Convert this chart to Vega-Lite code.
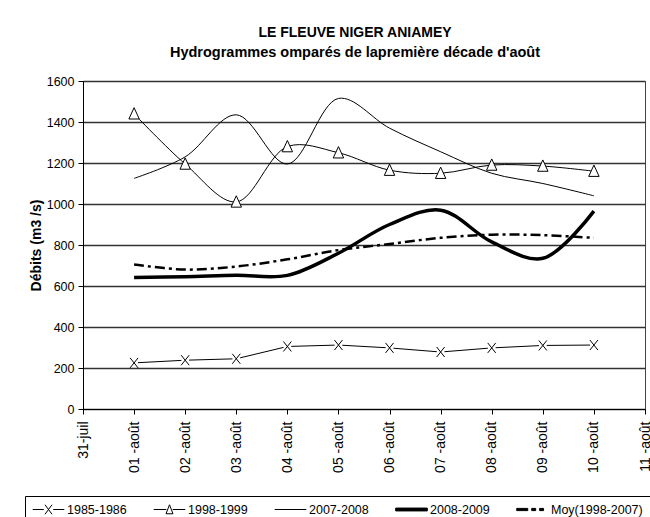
{
  "$schema": "https://vega.github.io/schema/vega-lite/v6.json",
  "width": 562,
  "height": 328,
  "autosize": {"type": "none"},
  "padding": {"left": 83, "top": 81, "right": 5, "bottom": 108},
  "background": "white",
  "title": {
    "text": "LE FLEUVE NIGER ANIAMEY",
    "subtitle": "Hydrogrammes omparés de lapremière décade d'août",
    "font": "Liberation Sans",
    "fontSize": 14,
    "fontWeight": "bold",
    "color": "black",
    "subtitleFont": "Liberation Sans",
    "subtitleFontSize": 14.5,
    "subtitleFontWeight": "bold",
    "subtitleColor": "black",
    "subtitlePadding": 6,
    "anchor": "middle",
    "dx": -9,
    "offset": 16
  },
  "config": {
    "font": "Liberation Sans",
    "view": {"stroke": "#444", "strokeWidth": 1}
  },
  "data": {
    "values": [
      {"date": "01 -août", "serie": "1985-1986", "value": 225},
      {"date": "02 -août", "serie": "1985-1986", "value": 238},
      {"date": "03 -août", "serie": "1985-1986", "value": 245},
      {"date": "04 -août", "serie": "1985-1986", "value": 305},
      {"date": "05 -août", "serie": "1985-1986", "value": 312},
      {"date": "06 -août", "serie": "1985-1986", "value": 298},
      {"date": "07 -août", "serie": "1985-1986", "value": 278},
      {"date": "08 -août", "serie": "1985-1986", "value": 298},
      {"date": "09 -août", "serie": "1985-1986", "value": 310},
      {"date": "10 -août", "serie": "1985-1986", "value": 312},
      {"date": "01 -août", "serie": "1998-1999", "value": 1440},
      {"date": "02 -août", "serie": "1998-1999", "value": 1195},
      {"date": "03 -août", "serie": "1998-1999", "value": 1010},
      {"date": "04 -août", "serie": "1998-1999", "value": 1280},
      {"date": "05 -août", "serie": "1998-1999", "value": 1250},
      {"date": "06 -août", "serie": "1998-1999", "value": 1165},
      {"date": "07 -août", "serie": "1998-1999", "value": 1150},
      {"date": "08 -août", "serie": "1998-1999", "value": 1190},
      {"date": "09 -août", "serie": "1998-1999", "value": 1185},
      {"date": "10 -août", "serie": "1998-1999", "value": 1160},
      {"date": "01 -août", "serie": "2007-2008", "value": 1125},
      {"date": "02 -août", "serie": "2007-2008", "value": 1230},
      {"date": "03 -août", "serie": "2007-2008", "value": 1435},
      {"date": "04 -août", "serie": "2007-2008", "value": 1195},
      {"date": "05 -août", "serie": "2007-2008", "value": 1515},
      {"date": "06 -août", "serie": "2007-2008", "value": 1370},
      {"date": "07 -août", "serie": "2007-2008", "value": 1255},
      {"date": "08 -août", "serie": "2007-2008", "value": 1150},
      {"date": "09 -août", "serie": "2007-2008", "value": 1100},
      {"date": "10 -août", "serie": "2007-2008", "value": 1040},
      {"date": "01 -août", "serie": "2008-2009", "value": 642},
      {"date": "02 -août", "serie": "2008-2009", "value": 645},
      {"date": "03 -août", "serie": "2008-2009", "value": 652},
      {"date": "04 -août", "serie": "2008-2009", "value": 652},
      {"date": "05 -août", "serie": "2008-2009", "value": 760},
      {"date": "06 -août", "serie": "2008-2009", "value": 900},
      {"date": "07 -août", "serie": "2008-2009", "value": 970},
      {"date": "08 -août", "serie": "2008-2009", "value": 815},
      {"date": "09 -août", "serie": "2008-2009", "value": 735},
      {"date": "10 -août", "serie": "2008-2009", "value": 965},
      {"date": "01 -août", "serie": "Moy(1998-2007)", "value": 705},
      {"date": "02 -août", "serie": "Moy(1998-2007)", "value": 680},
      {"date": "03 -août", "serie": "Moy(1998-2007)", "value": 695},
      {"date": "04 -août", "serie": "Moy(1998-2007)", "value": 730},
      {"date": "05 -août", "serie": "Moy(1998-2007)", "value": 775},
      {"date": "06 -août", "serie": "Moy(1998-2007)", "value": 805},
      {"date": "07 -août", "serie": "Moy(1998-2007)", "value": 835},
      {"date": "08 -août", "serie": "Moy(1998-2007)", "value": 850},
      {"date": "09 -août", "serie": "Moy(1998-2007)", "value": 848},
      {"date": "10 -août", "serie": "Moy(1998-2007)", "value": 835}
    ]
  },
  "encoding": {
    "x": {
      "field": "date",
      "type": "ordinal",
      "scale": {
        "type": "point",
        "padding": 0,
        "domain": ["31-juil", "01 -août", "02 -août", "03 -août", "04 -août", "05 -août", "06 -août", "07 -août", "08 -août", "09 -août", "10 -août", "11 -août"]
      },
      "axis": {
        "title": null,
        "labelAngle": -90,
        "labelFontSize": 14,
        "labelFont": "Liberation Sans",
        "labelColor": "black",
        "labelPadding": 7,
        "tickSize": 5,
        "tickColor": "black",
        "domainColor": "black",
        "grid": false
      }
    },
    "y": {
      "field": "value",
      "type": "quantitative",
      "scale": {"domain": [0, 1600], "nice": false},
      "axis": {
        "values": [0, 200, 400, 600, 800, 1000, 1200, 1400, 1600],
        "format": "d",
        "title": "Débits (m3 /s)",
        "titleFont": "Liberation Sans",
        "titleFontSize": 14,
        "titleFontWeight": "bold",
        "titleColor": "black",
        "titlePadding": 3,
        "labelFontSize": 12.5,
        "labelFont": "Liberation Sans",
        "labelColor": "black",
        "labelPadding": 4,
        "tickSize": 5,
        "tickColor": "black",
        "domainColor": "black",
        "gridColor": "#333",
        "gridWidth": 1.5
      }
    }
  },
  "layer": [
    {
      "mark": {"type": "point", "opacity": 0, "filled": false, "strokeWidth": 1},
      "encoding": {
        "shape": {
          "field": "serie",
          "type": "nominal",
          "scale": {
            "domain": ["1985-1986", "1998-1999", "2007-2008", "2008-2009", "Moy(1998-2007)"],
            "range": [
              "M-1,0L-0.3,0M0.3,0L1,0M-0.22,-0.3L0.22,0.3M-0.22,0.3L0.22,-0.3",
              "M-1,0L-0.2,0M0.2,0L1,0M0,-0.3L0.22,0.27L-0.22,0.27Z",
              "M-1,0L1,0",
              "M-1,-0.09L1,-0.09L1,0.09L-1,0.09Z",
              "M-1,-0.07L-0.3,-0.07L-0.3,0.07L-1,0.07ZM-0.05,-0.07L0.2,-0.07L0.2,0.07L-0.05,0.07ZM0.45,-0.07L0.7,-0.07L0.7,0.07L0.45,0.07Z"
            ]
          },
          "legend": {
            "title": null,
            "orient": "none",
            "legendX": -58,
            "legendY": 415,
            "direction": "horizontal",
            "strokeColor": "black",
            "fillColor": "white",
            "padding": 7,
            "symbolSize": 1000,
            "symbolOpacity": 1,
            "symbolStrokeWidth": 1,
            "clipHeight": 13,
            "labelFont": "Liberation Sans",
            "labelFontSize": 12.5,
            "labelColor": "black",
            "labelOffset": 2,
            "columnPadding": 26
          }
        },
        "fill": {
          "field": "serie",
          "type": "nominal",
          "scale": {
            "domain": ["1985-1986", "1998-1999", "2007-2008", "2008-2009", "Moy(1998-2007)"],
            "range": ["white", "white", "white", "black", "black"]
          }
        },
        "stroke": {
          "field": "serie",
          "type": "nominal",
          "scale": {
            "domain": ["1985-1986", "1998-1999", "2007-2008", "2008-2009", "Moy(1998-2007)"],
            "range": ["black", "black", "black", "black", "black"]
          }
        }
      }
    },
    {
      "transform": [{"filter": "datum.serie === '1985-1986'"}],
      "mark": {"type": "line", "color": "black", "strokeWidth": 1}
    },
    {
      "transform": [{"filter": "datum.serie === '1998-1999' || datum.serie === '2007-2008'"}],
      "mark": {"type": "line", "color": "black", "strokeWidth": 1, "interpolate": "catmull-rom"},
      "encoding": {
        "detail": {"field": "serie"}
      }
    },
    {
      "transform": [{"filter": "datum.serie === '2008-2009'"}],
      "mark": {"type": "line", "color": "black", "strokeWidth": 3.5, "interpolate": "catmull-rom"}
    },
    {
      "transform": [{"filter": "datum.serie === 'Moy(1998-2007)'"}],
      "mark": {"type": "line", "color": "black", "strokeWidth": 2.5, "strokeDash": [10, 4, 3, 4], "interpolate": "catmull-rom"}
    },
    {
      "transform": [{"filter": "datum.serie === '1985-1986'"}],
      "mark": {"type": "point", "shape": "square", "filled": true, "color": "white", "size": 60, "opacity": 1}
    },
    {
      "transform": [{"filter": "datum.serie === '1985-1986'"}],
      "mark": {"type": "point", "shape": "M-0.8,-1L0.8,1M-0.8,1L0.8,-1", "filled": false, "color": "black", "strokeWidth": 1, "size": 100, "opacity": 1}
    },
    {
      "transform": [{"filter": "datum.serie === '1998-1999'"}],
      "mark": {"type": "point", "shape": "M0,-1L0.85,0.85L-0.85,0.85Z", "filled": true, "fill": "white", "stroke": "black", "strokeWidth": 1, "size": 150, "opacity": 1}
    }
  ]
}
